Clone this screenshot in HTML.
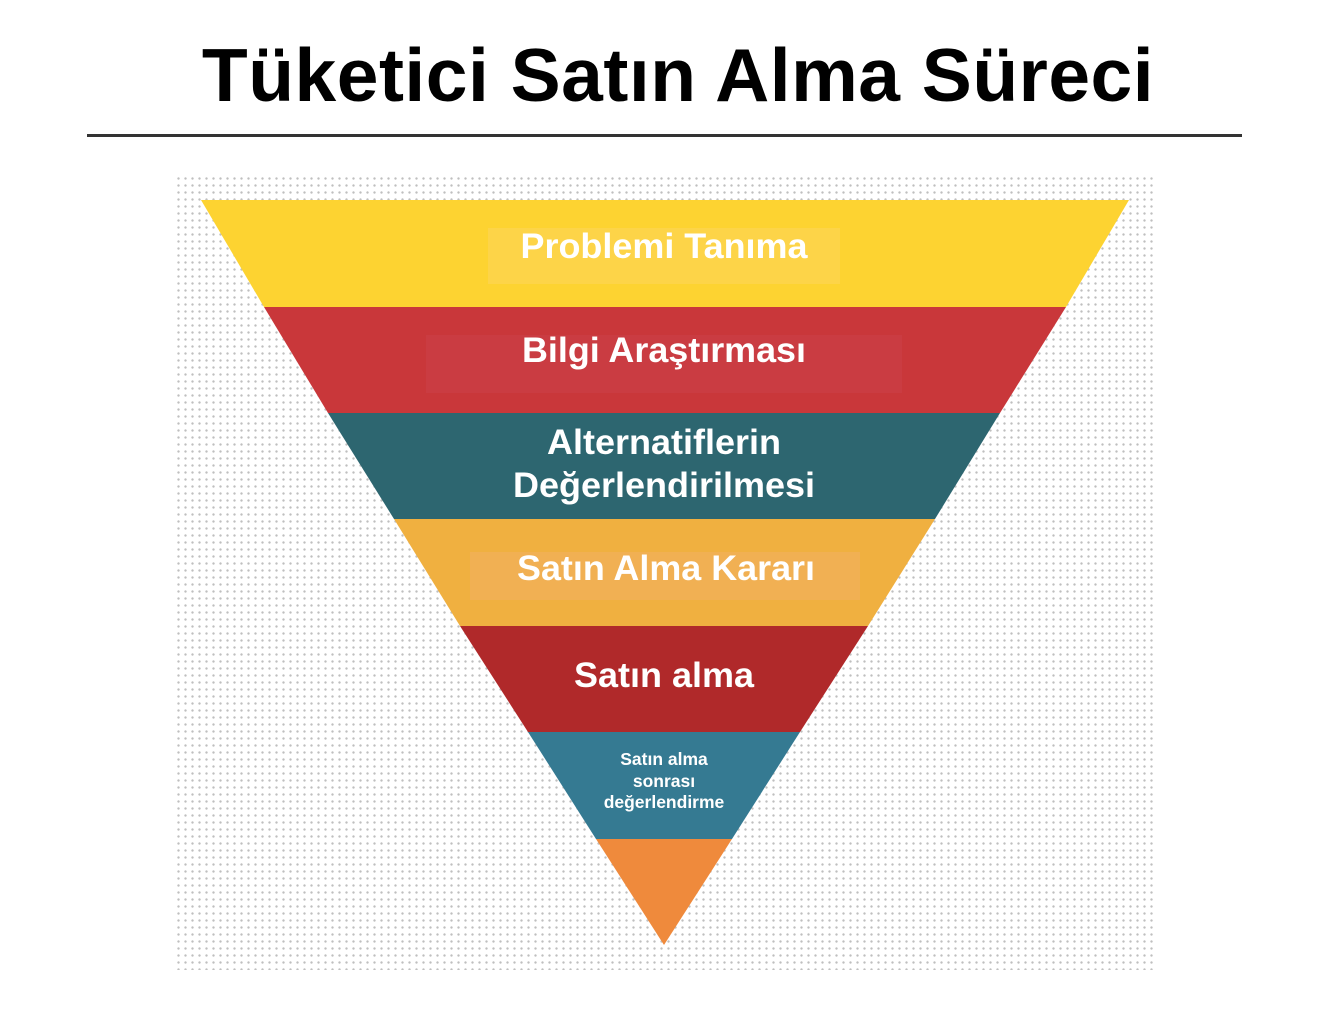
<!DOCTYPE html>
<html><head><meta charset="utf-8"><style>
html,body{margin:0;padding:0;background:#fff;width:1336px;height:1010px;overflow:hidden}
.title{position:absolute;left:0;width:1356px;top:32px;text-align:center;font:bold 75px "Liberation Sans",sans-serif;color:#000;letter-spacing:0.5px}
.rule{position:absolute;left:87px;top:134px;width:1155px;height:3px;background:#333}
.dots{position:absolute;left:175px;top:175px;width:980px;height:795px;background-image:radial-gradient(circle,#bfbfbf 1px,transparent 1.4px);background-size:7px 7px}
svg{position:absolute;left:0;top:0}
.t{font-family:"Liberation Sans",sans-serif;font-weight:bold;fill:#fff;text-anchor:middle}
</style></head><body>
<div class="title">Tüketici Satın Alma Süreci</div>
<div class="rule"></div>
<div class="dots"></div>
<svg width="1336" height="1010">
<polygon points="201,200 1129,200 1066,307 264,307" fill="#FDD331"/>
<polygon points="264,307 1066,307 1000,413 328,413" fill="#C9373A"/>
<polygon points="328,413 1000,413 935,519 394,519" fill="#2D6670"/>
<polygon points="394,519 935,519 868,626 460,626" fill="#F0B040"/>
<polygon points="460,626 868,626 800,732 528,732" fill="#B0292A"/>
<polygon points="528,732 800,732 732,839 596,839" fill="#357A92"/>
<polygon points="596,839 732,839 664,945" fill="#EF8A3C"/>
<rect x="488" y="228" width="352" height="56" fill="#fdd659" opacity="0.6"/>
<rect x="426" y="335" width="476" height="58" fill="#cc4048" opacity="0.6"/>
<rect x="470" y="552" width="390" height="48" fill="#f2b060" opacity="0.6"/>
<text class="t" x="664" y="258" font-size="35.5" textLength="287" lengthAdjust="spacingAndGlyphs">Problemi Tanıma</text>
<text class="t" x="664" y="362" font-size="35.5" textLength="284" lengthAdjust="spacingAndGlyphs">Bilgi Araştırması</text>
<text class="t" x="664" y="454" font-size="35.5" textLength="234" lengthAdjust="spacingAndGlyphs">Alternatiflerin</text>
<text class="t" x="664" y="497" font-size="35.5" textLength="302" lengthAdjust="spacingAndGlyphs">Değerlendirilmesi</text>
<text class="t" x="666" y="580" font-size="35.5" textLength="298" lengthAdjust="spacingAndGlyphs">Satın Alma Kararı</text>
<text class="t" x="664" y="687" font-size="35.5" textLength="180" lengthAdjust="spacingAndGlyphs">Satın alma</text>
<text class="t" x="664" y="765" font-size="17.5">Satın alma</text>
<text class="t" x="664" y="787" font-size="17.5">sonrası</text>
<text class="t" x="664" y="808" font-size="17.5">değerlendirme</text>
</svg>
</body></html>
